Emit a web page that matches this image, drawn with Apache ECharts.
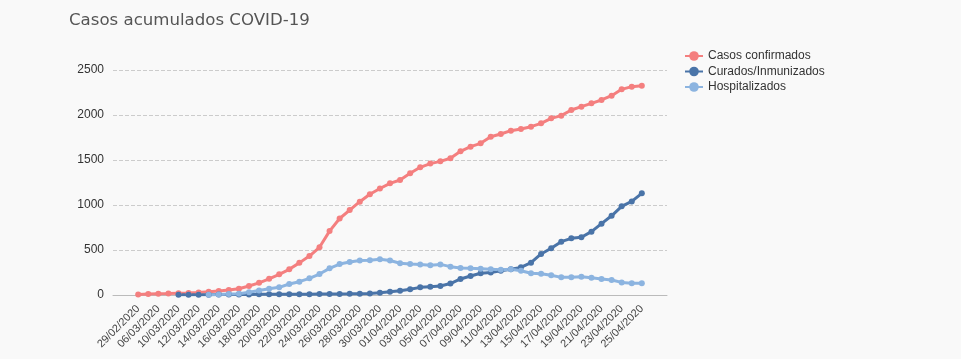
<!DOCTYPE html>
<html>
<head>
<meta charset="utf-8">
<script src="https://cdn.jsdelivr.net/npm/echarts@6/dist/echarts.min.js"></script>
<style>
html,body{margin:0;padding:0;background:#f9f9f9;}
#c{width:961px;height:359px;}
</style>
</head>
<body>
<div id="c"></div>
<script>
const dates = ['29/02/2020','04/03/2020','06/03/2020','09/03/2020','10/03/2020','11/03/2020','12/03/2020','13/03/2020','14/03/2020','15/03/2020','16/03/2020','17/03/2020','18/03/2020','19/03/2020','20/03/2020','21/03/2020','22/03/2020','23/03/2020','24/03/2020','25/03/2020','26/03/2020','27/03/2020','28/03/2020','29/03/2020','30/03/2020','31/03/2020','01/04/2020','02/04/2020','03/04/2020','04/04/2020','05/04/2020','06/04/2020','07/04/2020','08/04/2020','09/04/2020','10/04/2020','11/04/2020','12/04/2020','13/04/2020','14/04/2020','15/04/2020','16/04/2020','17/04/2020','18/04/2020','19/04/2020','20/04/2020','21/04/2020','22/04/2020','23/04/2020','24/04/2020','25/04/2020'];

const confirmados = [5,10,15,17,20,22,27,35,45,55,70,100,135,180,230,285,357,433,530,710,850,944,1037,1119,1183,1241,1278,1352,1419,1460,1485,1519,1596,1648,1685,1759,1789,1826,1844,1870,1907,1963,1993,2056,2093,2130,2167,2215,2285,2315,2326];

const curados = [null,null,null,null,3,3,4,4,5,5,6,6,7,7,8,8,9,9,10,11,12,13,15,18,26,35,48,63,85,93,100,127,178,211,241,250,270,287,307,359,456,519,593,630,641,704,793,880,985,1040,1130];

const hospitalizados = [null,null,null,null,null,null,null,3,5,10,15,30,50,70,85,122,148,185,233,296,344,367,383,387,396,383,352,344,339,330,340,315,300,296,293,287,280,287,270,241,237,219,196,196,204,191,178,167,140,130,130];

const yTicks = [0,500,1000,1500,2000,2500];

const seriesNames = ['Casos confirmados','Curados/Inmunizados','Hospitalizados'];
const colors = ['#f47f7f','#4a74a8','#8cb4e0'];

// pad the category axis with two empty slots on each side
const pad = ['',''];
const cats = pad.concat(dates, pad);
const padData = arr => [null,null].concat(arr,[null,null]);

const chart = echarts.init(document.getElementById('c'));
const mk = (name, data, color) => ({
  name, type:'line', data: padData(data),
  symbol:'circle', symbolSize:6, showSymbol:true,
  lineStyle:{width:3, color}, itemStyle:{color},
  emphasis:{disabled:true}
});
chart.setOption({
  backgroundColor:'#f9f9f9',
  animation:false,
  title:{
    text:'Casos acumulados COVID-19', left:64, top:7,
    textStyle:{fontFamily:'DejaVu Sans', fontSize:16.6, fontWeight:'normal', color:'#555'}
  },
  legend:{
    orient:'vertical', left:679, top:45,
    itemWidth:18, itemHeight:12, itemGap:3.5,
    textStyle:{fontFamily:'Liberation Sans', fontSize:12, color:'#333'},
    data: seriesNames
  },
  grid:{left:113, right:294, top:70, bottom:64},
  xAxis:{
    type:'category', data:cats, boundaryGap:true,
    axisLine:{lineStyle:{color:'#bbb'}},
    axisTick:{show:false},
    axisLabel:{interval:1, rotate:45, fontFamily:'Liberation Sans', fontSize:11, color:'#444', margin:12}
  },
  yAxis:{
    type:'value', min:yTicks[0], max:yTicks[yTicks.length-1], interval:500,
    axisLine:{show:false}, axisTick:{show:false},
    axisLabel:{fontFamily:'Liberation Sans', fontSize:12, color:'#333', margin:9, formatter:v => String(v)},
    splitLine:{lineStyle:{type:'dashed', color:'#ccc'}}
  },
  series:[
    mk(seriesNames[0], confirmados, colors[0]),
    mk(seriesNames[1], curados, colors[1]),
    mk(seriesNames[2], hospitalizados, colors[2])
  ]
});
</script>
</body>
</html>
